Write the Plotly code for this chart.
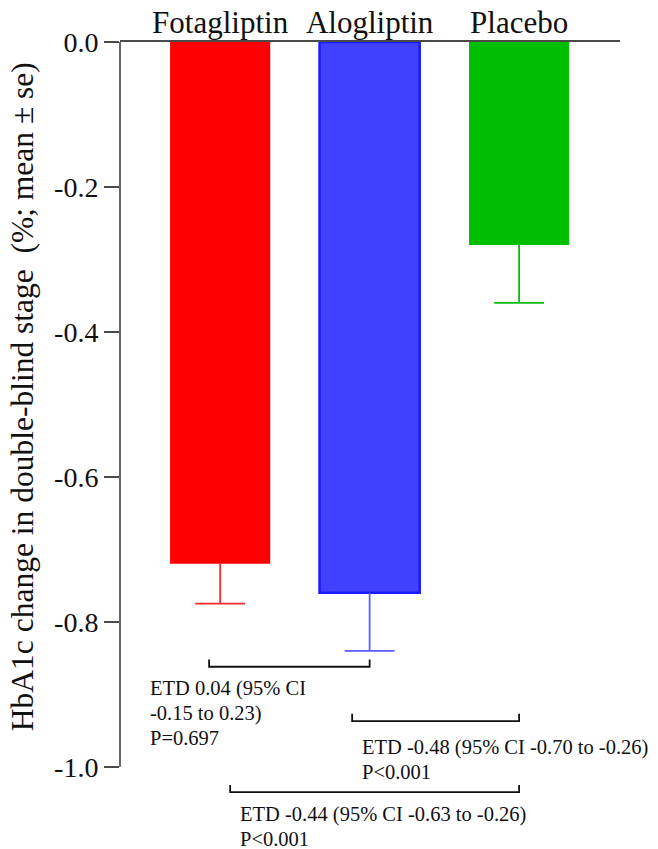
import plotly.graph_objects as go

categories = ["Fotagliptin", "Alogliptin", "Placebo"]
means = [-0.72, -0.76, -0.28]
se = [0.055, 0.08, 0.08]
bar_colors = ["#ff0000", "#4040ff", "#00bf00"]
bar_line_colors = ["#ff0000", "#1a1aff", "#00bf00"]
err_colors = ["#ff2a2a", "#5c5cff", "#10b810"]
y_ticks = [0.0, -0.2, -0.4, -0.6, -0.8, -1.0]
y_ticklabels = ["0.0", "-0.2", "-0.4", "-0.6", "-0.8", "-1.0"]

# comparison brackets: (x start, x end, y level)
brackets = [(-0.074, 1.0, -0.862), (0.883, 2.0, -0.937), (0.067, 2.0, -1.035)]
bracket_texts = [
    ["ETD 0.04 (95% CI", "-0.15 to 0.23)", "P=0.697"],
    ["ETD -0.48 (95% CI -0.70 to -0.26)", "P<0.001"],
    ["ETD -0.44 (95% CI -0.63 to -0.26)", "P<0.001"],
]
text_x = [-0.482, 0.936, 0.12]
text_line_ypx = [[689, 714, 738], [748, 772], [815, 839]]
y_title = "HbA1c change in double-blind stage  (%; mean ± se)"

FONT = "Liberation Serif, Times New Roman, serif"
OFF = 8            # default page margin around the figure
WIN_W, WIN_H = 658, 849
W, H = WIN_W - OFF, WIN_H - OFF
Y_MIN = -1.05
TOP = 41.5         # page px of y=0
LEFT = 120         # page px of y axis
RIGHT = 620
PX_PER_UNIT = 725.5
plot_bottom = TOP + (-Y_MIN) * PX_PER_UNIT


def paper_y(ypx):
    return (plot_bottom - ypx) / (plot_bottom - TOP)


def paper_x(xpx):
    return (xpx - LEFT) / (RIGHT - LEFT)


xs = list(range(len(categories)))
fig = go.Figure()
fig.add_trace(go.Bar(
    x=xs, y=means, width=0.67,
    marker=dict(color=bar_colors, line=dict(color=bar_line_colors, width=[0, 2.5, 0])),
    showlegend=False,
))

cap = 0.167
for i, (m, s, c) in enumerate(zip(means, se, err_colors)):
    lo = m - s
    fig.add_trace(go.Scatter(
        x=[i, i, None, i - cap, i + cap],
        y=[m, lo, None, lo, lo],
        mode="lines", line=dict(color=c, width=1.8),
        showlegend=False, hoverinfo="skip",
    ))

shapes = []
shapes.append(dict(type="line", xref="paper", yref="y", x0=0, x1=0, y0=0, y1=-1.0,
                   line=dict(color="#4a4a4a", width=1.7)))
for x0, x1, yb in brackets:
    shapes.append(dict(type="path", xref="x", yref="y",
                       path=f"M {x0},{yb+0.01} L {x0},{yb} L {x1},{yb} L {x1},{yb+0.01}",
                       line=dict(color="#111111", width=1.8)))

annotations = []
for lines, x, ys in zip(bracket_texts, text_x, text_line_ypx):
    for t, ypx in zip(lines, ys):
        annotations.append(dict(text=t, x=x, xref="x", y=paper_y(ypx), yref="paper",
                                xanchor="left", yanchor="middle", align="left",
                                showarrow=False, font=dict(family=FONT, size=20.5, color="#111111")))
annotations.append(dict(text=y_title,
                        x=paper_x(22), xref="paper", y=paper_y(397), yref="paper",
                        xanchor="center", yanchor="middle", textangle=-90, showarrow=False,
                        font=dict(family=FONT, size=31.5, color="#111111")))

fig.update_layout(
    width=W, height=H,
    margin=dict(l=LEFT - OFF, r=WIN_W - RIGHT, t=TOP - OFF, b=WIN_H - plot_bottom,
                pad=0, autoexpand=False),
    paper_bgcolor="white", plot_bgcolor="white",
    font=dict(family=FONT, color="#111111"),
    shapes=shapes, annotations=annotations,
    xaxis=dict(range=[-0.67, 2.675], side="top", tickvals=xs, ticktext=categories,
               showline=True, linecolor="#4a4a4a", linewidth=1.7, ticks="",
               ticklabelstandoff=-5,
               showgrid=False, zeroline=False, automargin=False,
               tickfont=dict(family=FONT, size=31, color="#111111")),
    yaxis=dict(range=[Y_MIN, 0], tickvals=y_ticks, ticktext=y_ticklabels,
               showline=False, ticks="outside", ticklen=15, tickwidth=1.7, tickcolor="#4a4a4a",
               showgrid=False, zeroline=False, automargin=False,
               tickfont=dict(family=FONT, size=28, color="#111111")),
)

fig.write_html("out.html")
